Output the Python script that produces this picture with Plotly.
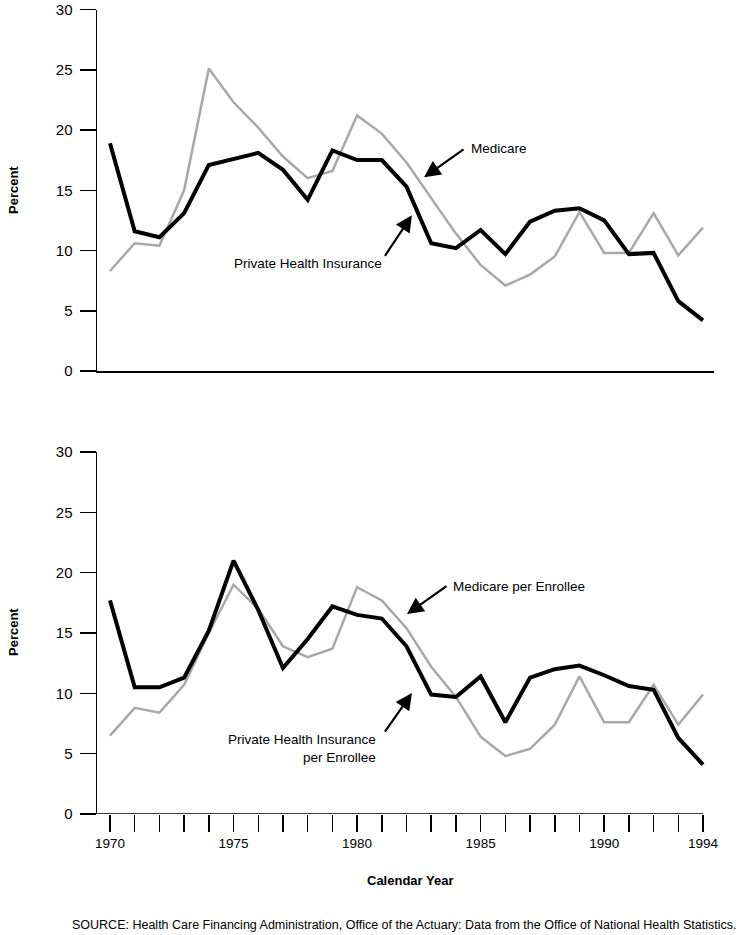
import plotly.graph_objects as go

years = list(range(1970, 1995))

# Top panel: annual percent change
private_hi = [18.9, 11.6, 11.1, 13.1, 17.1, 17.6, 18.1, 16.7, 14.2, 18.3, 17.5, 17.5, 15.3,
              10.6, 10.2, 11.7, 9.7, 12.4, 13.3, 13.5, 12.5, 9.7, 9.8, 5.8, 4.2]
medicare = [8.3, 10.6, 10.4, 15.0, 25.1, 22.3, 20.2, 17.8, 16.0, 16.6, 21.2, 19.7, 17.3,
            14.4, 11.4, 8.8, 7.1, 8.0, 9.5, 13.2, 9.8, 9.8, 13.1, 9.6, 11.9]

# Bottom panel: per enrollee
private_hi_pe = [17.7, 10.5, 10.5, 11.3, 15.2, 21.0, 16.9, 12.1, 14.5, 17.2, 16.5, 16.2, 13.9,
                 9.9, 9.7, 11.4, 7.6, 11.3, 12.0, 12.3, 11.5, 10.6, 10.3, 6.3, 4.1]
medicare_pe = [6.5, 8.8, 8.4, 10.7, 15.0, 19.0, 17.0, 13.9, 13.0, 13.7, 18.8, 17.7, 15.4,
               12.2, 9.7, 6.4, 4.8, 5.4, 7.4, 11.4, 7.6, 7.6, 10.7, 7.4, 9.9]

x_tick_labels = {1970: "1970", 1975: "1975", 1980: "1980", 1985: "1985", 1990: "1990", 1994: "1994"}
y_ticks = [0, 5, 10, 15, 20, 25, 30]

FONT = "Liberation Sans, Arial, Helvetica, sans-serif"
GRAY = "#a8a8a8"
XR = [1969.474, 1994.445]

W, H = 744, 935
L, R = 97, 30


def px(page_x):
    return (page_x - L) / (W - L - R)


def py(page_y):
    return 1 - page_y / H


fig = go.Figure()
fig.add_trace(go.Scatter(x=years, y=medicare, mode="lines", line=dict(color=GRAY, width=2.5),
                         xaxis="x", yaxis="y", showlegend=False))
fig.add_trace(go.Scatter(x=years, y=private_hi, mode="lines", line=dict(color="black", width=4),
                         xaxis="x", yaxis="y", showlegend=False))
fig.add_trace(go.Scatter(x=years, y=medicare_pe, mode="lines", line=dict(color=GRAY, width=2.5),
                         xaxis="x2", yaxis="y2", showlegend=False))
fig.add_trace(go.Scatter(x=years, y=private_hi_pe, mode="lines", line=dict(color="black", width=4),
                         xaxis="x2", yaxis="y2", showlegend=False))

yax = dict(range=[0, 30], tickvals=y_ticks, ticks="outside", ticklen=16, tickwidth=1.5,
           tickcolor="black", showline=True, linecolor="black", linewidth=1.5,
           showgrid=False, zeroline=False, tickfont=dict(family=FONT, size=15, color="black"),
           ticklabelstandoff=4, automargin=False)

fig.update_layout(
    width=W, height=H,
    margin=dict(l=L, r=R, t=0, b=0),
    paper_bgcolor="white", plot_bgcolor="white",
    xaxis=dict(domain=[0, 1], range=XR, showticklabels=False, ticks="", showline=True,
               linecolor="black", linewidth=1.5, showgrid=False, zeroline=False, anchor="y",
               automargin=False),
    yaxis=dict(domain=[py(371), py(9.5)], anchor="x", **yax),
    xaxis2=dict(domain=[0, 1], range=XR, tickvals=years,
                ticktext=[x_tick_labels.get(y, "") for y in years],
                ticks="outside", ticklen=17, tickwidth=1.5, tickcolor="black",
                showline=False, showgrid=False, zeroline=False, anchor="y2",
                tickfont=dict(family=FONT, size=13.5, color="black"), automargin=False),
    yaxis2=dict(domain=[py(814), py(452)], anchor="x2", **yax),
    font=dict(family=FONT, color="black"),
)

# bottom x axis line (ends at 1994)
fig.add_shape(type="line", xref="x2", yref="y2", x0=XR[0], x1=1994, y0=0, y1=0,
              line=dict(color="black", width=1.5))

ann_font = dict(family=FONT, size=13.5, color="black")
arrow = dict(text="", showarrow=True, arrowhead=2, arrowsize=1.5, arrowwidth=2.2,
             arrowcolor="black")
annotations = [
    # top panel
    dict(xref="x", yref="y", x=1982.71, y=16.07, ax=41, ay=-29, **arrow),
    dict(xref="x", yref="y", x=1982.22, y=12.92, ax=-28, ay=42, **arrow),
    dict(xref="paper", yref="paper", x=px(469), y=py(148), text="Medicare",
         showarrow=False, xanchor="left", yanchor="middle", font=ann_font),
    dict(xref="paper", yref="paper", x=px(384), y=py(263),
         text="Private Health Insurance", showarrow=False, xanchor="right", yanchor="middle",
         font=ann_font),
    # bottom panel
    dict(xref="x2", yref="y2", x=1982.02, y=16.57, ax=41, ay=-29, **arrow),
    dict(xref="x2", yref="y2", x=1982.22, y=10.02, ax=-28, ay=40, **arrow),
    dict(xref="paper", yref="paper", x=px(451), y=py(586),
         text="Medicare per Enrollee", showarrow=False, xanchor="left", yanchor="middle",
         font=ann_font),
    dict(xref="paper", yref="paper", x=px(378), y=py(748),
         text="Private Health Insurance<br>per Enrollee", showarrow=False, xanchor="right",
         yanchor="middle", align="right", font=ann_font),
    # axis titles
    dict(xref="paper", yref="paper", x=px(13), y=py(190), text="<b>Percent</b>",
         textangle=-90, showarrow=False, xanchor="center", yanchor="middle",
         font=dict(family=FONT, size=13, color="black")),
    dict(xref="paper", yref="paper", x=px(13), y=py(632), text="<b>Percent</b>",
         textangle=-90, showarrow=False, xanchor="center", yanchor="middle",
         font=dict(family=FONT, size=13, color="black")),
    dict(xref="paper", yref="paper", x=px(410), y=py(880),
         text="<b>Calendar Year</b>", showarrow=False, xanchor="center", yanchor="middle",
         font=dict(family=FONT, size=13, color="black")),
    dict(xref="paper", yref="paper", x=px(738), y=py(925),
         text="SOURCE: Health Care Financing Administration, Office of the Actuary: Data from the Office of National Health Statistics.",
         showarrow=False, xanchor="right", yanchor="middle",
         font=dict(family=FONT, size=12.5, color="black")),
]
fig.update_layout(annotations=annotations)

# remove the browser's default 8px body margin so the figure sits at the page origin
fig.write_html("out.html",
               config={"displayModeBar": False, "staticPlot": True},
               post_script="document.body.style.margin='0';document.body.style.overflow='hidden';")
